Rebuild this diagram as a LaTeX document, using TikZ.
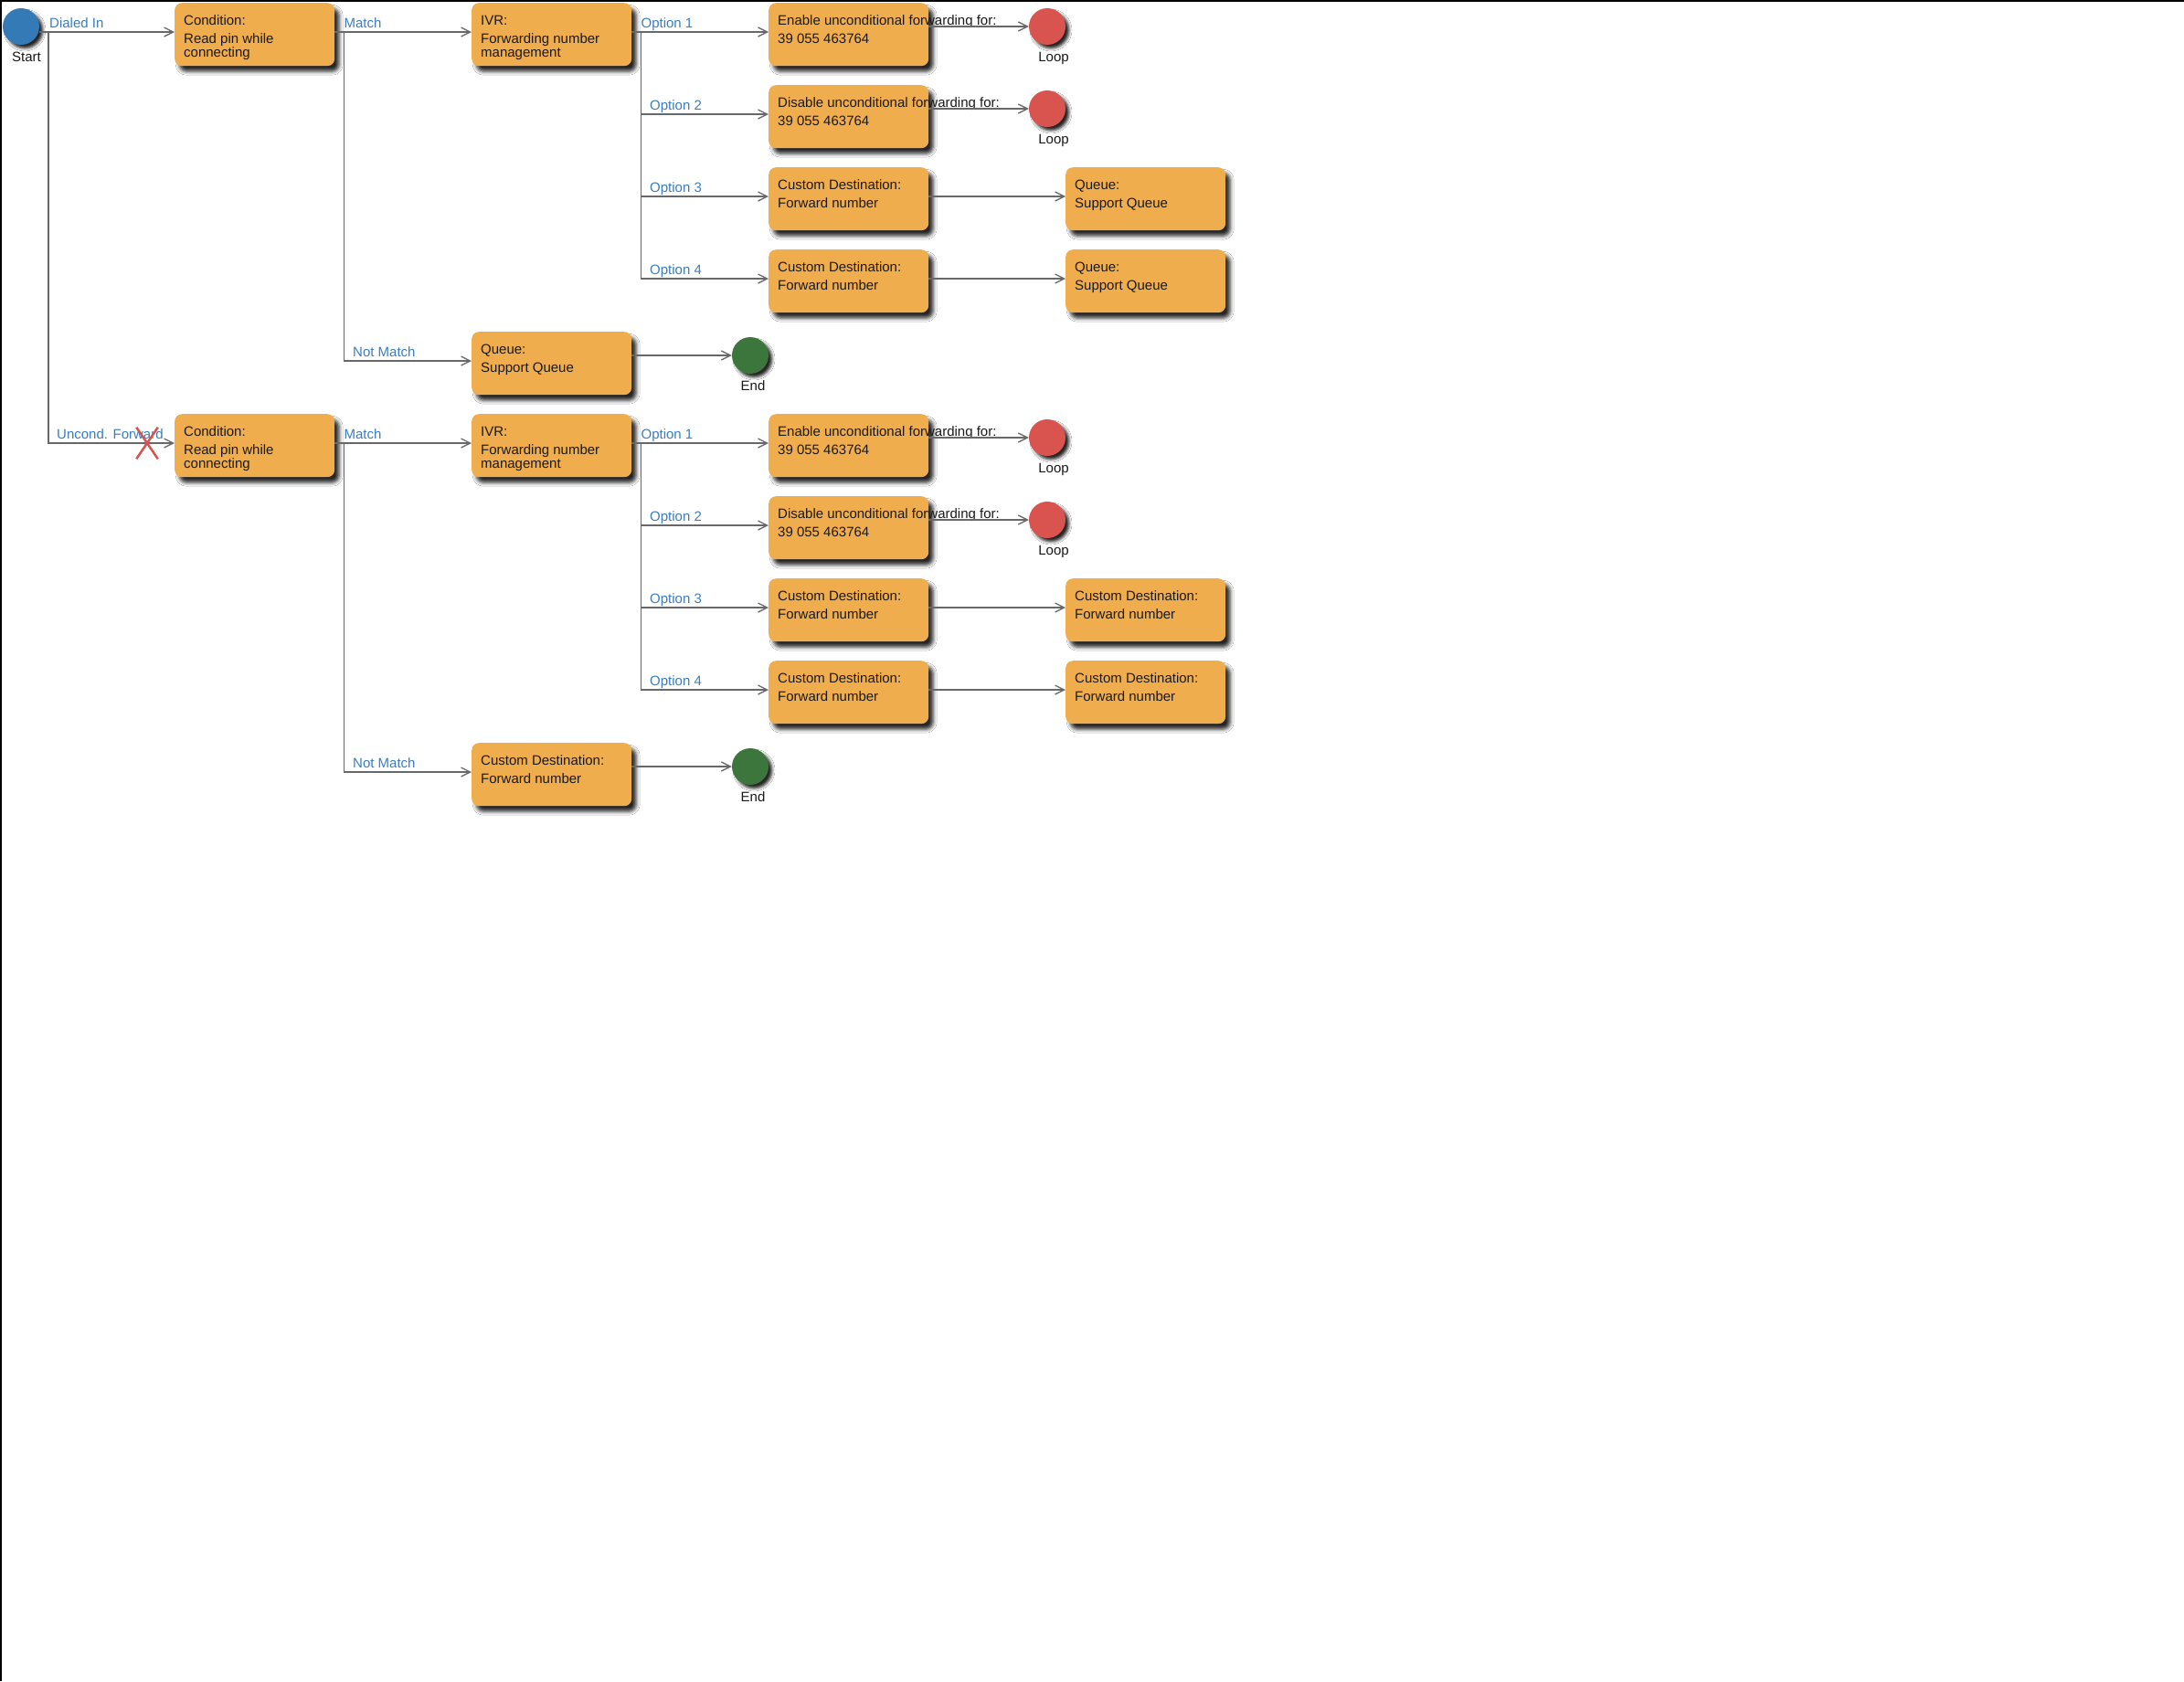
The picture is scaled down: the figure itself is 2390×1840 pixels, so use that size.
\documentclass[tikz,border=0pt]{standalone}
\usepackage{fontspec}
\setmainfont{Liberation Sans}
\usetikzlibrary{calc,arrows.meta,shapes.misc,shadows.blur}
\definecolor{boxor}{HTML}{F0AD4E}
\definecolor{cred}{HTML}{D9534F}
\definecolor{cgreen}{HTML}{3C763D}
\definecolor{cblue}{HTML}{337AB7}
\definecolor{lblue}{HTML}{3A7EC0}
\definecolor{linecol}{HTML}{686868}
\definecolor{txtcol}{HTML}{1A1A1A}
\tikzset{
  shad/.style={blur shadow={shadow xshift=5pt, shadow yshift=-6pt, shadow blur radius=4pt, shadow opacity=85}},
  box/.style={rectangle, rounded corners=8pt, fill=boxor, minimum width=175pt, minimum height=69pt, anchor=north west, inner sep=0pt, shad},
  circ/.style={circle, minimum size=40pt, inner sep=0pt, blur shadow={shadow xshift=4pt, shadow yshift=-4pt, shadow blur radius=3pt, shadow opacity=85}},
  btxt/.style={anchor=base west, inner sep=0pt, font=\fontsize{15}{18}\selectfont, text=txtcol},
  ctxt/.style={anchor=base, inner sep=0pt, font=\fontsize{15}{18}\selectfont, text=txtcol},
  lbl/.style={anchor=base west, inner sep=0pt, font=\fontsize{15}{18}\selectfont, text=lblue},
  conn/.style={draw=linecol, line width=1.5pt, -{Straight Barb[length=10pt, width=10pt, line width=1.3pt]}},
}
\newcommand\mkbox[6]{%
  \node[box] (#1) at (#2,#3) {};
  \node[btxt] (#1-a) at ($(#1.north west)+(10,24.5)$) {#4};
  \node[btxt] (#1-b) at ($(#1.north west)+(10,44)$) {#5};
  \if\relax\detokenize{#6}\relax\else
  \node[btxt] (#1-c) at ($(#1.north west)+(10,59)$) {#6};\fi
}
\begin{document}
\begin{tikzpicture}[x=1pt,y=-1pt]
\useasboundingbox (0,0) rectangle (2390,1840);
\fill[white] (0,0) rectangle (2390,1840);
\draw[black, line width=2pt] (0,1) -- (2390,1);
\draw[black, line width=2pt] (1,0) -- (1,1840);

% start
\node[circ, fill=cblue] (start) at (23,29) {};
\node[ctxt] (startl) at ($(start.center)+(6,38)$) {Start};

% ---------- top half ----------
\mkbox{c1}{191}{3}{Condition:}{Read pin while}{connecting}
\mkbox{ivr1}{516}{3}{IVR:}{Forwarding number}{management}
\mkbox{en1}{841}{3}{Enable unconditional forwarding for:}{39 055 463764}{}
\mkbox{dis1}{841}{93}{Disable unconditional forwarding for:}{39 055 463764}{}
\mkbox{cd13}{841}{183}{Custom Destination:}{Forward number}{}
\mkbox{cd14}{841}{273}{Custom Destination:}{Forward number}{}
\mkbox{q13}{1166}{183}{Queue:}{Support Queue}{}
\mkbox{q14}{1166}{273}{Queue:}{Support Queue}{}
\mkbox{q1}{516}{363}{Queue:}{Support Queue}{}
\node[circ, fill=cred] (loop1) at (1146,29) {};
\node[ctxt] (loop1l) at ($(loop1.center)+(7,38)$) {Loop};
\node[circ, fill=cred] (loop2) at (1146,119) {};
\node[ctxt] (loop2l) at ($(loop2.center)+(7,38)$) {Loop};
\node[circ, fill=cgreen] (end1) at (821,389) {};
\node[ctxt] (end1l) at ($(end1.center)+(3,38)$) {End};

% ---------- bottom half ----------
\mkbox{c2}{191}{453}{Condition:}{Read pin while}{connecting}
\mkbox{ivr2}{516}{453}{IVR:}{Forwarding number}{management}
\mkbox{en2}{841}{453}{Enable unconditional forwarding for:}{39 055 463764}{}
\mkbox{dis2}{841}{543}{Disable unconditional forwarding for:}{39 055 463764}{}
\mkbox{cd23}{841}{633}{Custom Destination:}{Forward number}{}
\mkbox{cd24}{841}{723}{Custom Destination:}{Forward number}{}
\mkbox{cdr23}{1166}{633}{Custom Destination:}{Forward number}{}
\mkbox{cdr24}{1166}{723}{Custom Destination:}{Forward number}{}
\mkbox{cd2}{516}{813}{Custom Destination:}{Forward number}{}
\node[circ, fill=cred] (loop3) at (1146,479) {};
\node[ctxt] (loop3l) at ($(loop3.center)+(7,38)$) {Loop};
\node[circ, fill=cred] (loop4) at (1146,569) {};
\node[ctxt] (loop4l) at ($(loop4.center)+(7,38)$) {Loop};
\node[circ, fill=cgreen] (end2) at (821,839) {};
\node[ctxt] (end2l) at ($(end2.center)+(3,38)$) {End};

% ---------- connectors ----------
\draw[conn] ($(start.center)+(20,6)$) -- ($(c1.north west)+(0,32)$);
\draw[conn] ($(start.center)+(30,6)$) |- ($(c2.north west)+(0,32)$);
\node[lbl] (l-di) at ($(start.center)+(31,1.5)$) {Dialed In};
\node[lbl] (l-uf) at ($(c2.north west)+(-129,27.5)$) {Uncond. Forward};
\node[cross out, draw=cred, line width=2.5pt, minimum width=21pt, minimum height=32pt, inner sep=0pt] (xmark) at ($(c2.north west)+(-30,32)$) {};

\foreach \c/\i/\q/\e/\d/\ca/\cb/\ra/\rb/\la/\lb/\en in {c1/ivr1/q1/en1/dis1/cd13/cd14/q13/q14/loop1/loop2/end1, c2/ivr2/cd2/en2/dis2/cd23/cd24/cdr23/cdr24/loop3/loop4/end2}{
  \draw[conn] ($(\c.north east)+(0,32)$) -- ($(\i.north west)+(0,32)$);
  \draw[conn] ($(\c.north east)+(0,32)$) -- ++(10,0) |- ($(\q.north west)+(0,32)$);
  \node[lbl] at ($(\c.north east)+(10,27.5)$) {Match};
  \node[lbl] at ($(\q.north west)+(-130,27.5)$) {Not Match};
  \draw[conn] ($(\i.north east)+(0,32)$) -- ($(\e.north west)+(0,32)$);
  \draw[conn] ($(\i.north east)+(0,32)$) -- ++(10,0) |- ($(\d.north west)+(0,32)$);
  \draw[conn] ($(\i.north east)+(0,32)$) -- ++(10,0) |- ($(\ca.north west)+(0,32)$);
  \draw[conn] ($(\i.north east)+(0,32)$) -- ++(10,0) |- ($(\cb.north west)+(0,32)$);
  \node[lbl] at ($(\i.north east)+(10,27.5)$) {Option 1};
  \node[lbl] at ($(\d.north west)+(-130,27.5)$) {Option 2};
  \node[lbl] at ($(\ca.north west)+(-130,27.5)$) {Option 3};
  \node[lbl] at ($(\cb.north west)+(-130,27.5)$) {Option 4};
  \draw[conn] ($(\e.north east)+(0,26)$) -- (\la.west);
  \draw[conn] ($(\d.north east)+(0,26)$) -- (\lb.west);
  \draw[conn] ($(\ca.north east)+(0,32)$) -- ($(\ra.north west)+(0,32)$);
  \draw[conn] ($(\cb.north east)+(0,32)$) -- ($(\rb.north west)+(0,32)$);
  \draw[conn] ($(\q.north east)+(0,26)$) -- (\en.west);
}
\end{tikzpicture}
\end{document}
